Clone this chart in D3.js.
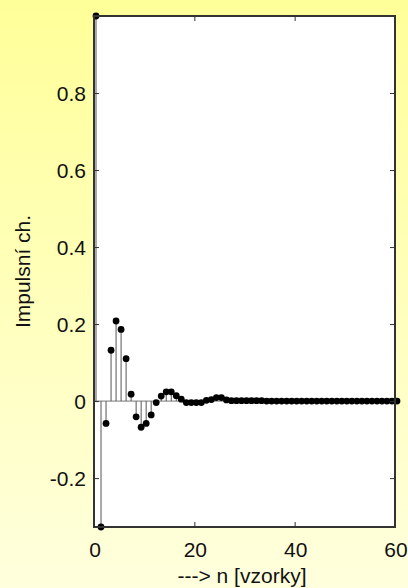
<!DOCTYPE html>
<html>
<head>
<meta charset="utf-8">
<script src="https://cdn.jsdelivr.net/npm/d3@7"></script>
<style>
  html, body { margin: 0; padding: 0; }
  body { width: 408px; height: 588px; overflow: hidden; }
  text { font-family: "Liberation Sans", Arial, sans-serif; fill: #111; }
</style>
</head>
<body>
<div id="chart"></div>
<script>
// impulse response samples, n = 0..60
const samples = [
  1, -0.327, -0.058, 0.132, 0.208, 0.186, 0.110, 0.018, -0.041, -0.068,
  -0.058, -0.036, -0.004, 0.013, 0.024, 0.024, 0.014, 0.005, -0.004, -0.004,
  -0.004, -0.004, 0.002, 0.004, 0.009, 0.009, 0.003, 0.001, 0.001, 0.001,
  0.001, 0.001, 0.001, 0.001, 0, 0, 0, 0, 0, 0,
  0, 0, 0, 0, 0, 0, 0, 0, 0, 0,
  0, 0, 0, 0, 0, 0, 0, 0, 0, 0,
  0
];
const xTicks = [0, 20, 40, 60];
const yTicks = [-0.2, 0, 0.2, 0.4, 0.6, 0.8];
const xLabel = "---> n [vzorky]";
const yLabel = "Impulsní ch.";

const width = 408, height = 588;
const pLeft = 94, pRight = 395, pTop = 16, pBottom = 527;
const fontSize = 21;

const svg = d3.select("#chart").append("svg")
  .attr("width", width)
  .attr("height", height);

// yellow gradient background
const grad = svg.append("defs").append("linearGradient")
  .attr("id", "bg").attr("x1", 0).attr("y1", 0).attr("x2", 0).attr("y2", 1);
grad.append("stop").attr("offset", "0%").attr("stop-color", "#ffff99");
grad.append("stop").attr("offset", "100%").attr("stop-color", "#ffffdd");
svg.append("rect").attr("width", width).attr("height", height).attr("fill", "url(#bg)");

const x = d3.scaleLinear().domain([0, 60]).range([pLeft, pRight]);
const y = d3.scaleLinear().domain([d3.min(samples), 1]).range([pBottom, pTop]);

svg.append("rect")
  .attr("x", pLeft).attr("y", pTop)
  .attr("width", pRight - pLeft).attr("height", pBottom - pTop)
  .attr("fill", "#fff");

const g = svg.append("g");

// baseline
g.append("line")
  .attr("x1", x(0)).attr("x2", x(60))
  .attr("y1", y(0)).attr("y2", y(0))
  .attr("stroke", "#777").attr("stroke-width", 1);

// stems
g.selectAll("line.stem").data(samples).join("line")
  .attr("class", "stem")
  .attr("x1", (d, i) => x(i) + 2).attr("x2", (d, i) => x(i) + 2)
  .attr("y1", y(0)).attr("y2", d => y(d))
  .attr("stroke", "#555").attr("stroke-width", 1);

// frame + ticks (inward, all four sides)
const axisColor = "#333";
svg.append("rect")
  .attr("x", pLeft).attr("y", pTop)
  .attr("width", pRight - pLeft).attr("height", pBottom - pTop)
  .attr("fill", "none").attr("stroke", axisColor).attr("stroke-width", 2);

svg.append("g").attr("transform", `translate(0,${pBottom})`)
  .call(d3.axisTop(x).tickValues(xTicks).tickSize(5).tickFormat(""))
  .call(a => a.select(".domain").remove())
  .selectAll("line").attr("stroke", axisColor);
svg.append("g").attr("transform", `translate(0,${pTop})`)
  .call(d3.axisBottom(x).tickValues(xTicks).tickSize(5).tickFormat(""))
  .call(a => a.select(".domain").remove())
  .selectAll("line").attr("stroke", axisColor);
svg.append("g").attr("transform", `translate(${pLeft},0)`)
  .call(d3.axisRight(y).tickValues(yTicks).tickSize(5).tickFormat(""))
  .call(a => a.select(".domain").remove())
  .selectAll("line").attr("stroke", axisColor);
svg.append("g").attr("transform", `translate(${pRight},0)`)
  .call(d3.axisLeft(y).tickValues(yTicks).tickSize(5).tickFormat(""))
  .call(a => a.select(".domain").remove())
  .selectAll("line").attr("stroke", axisColor);

// markers
g.selectAll("circle").data(samples).join("circle")
  .attr("cx", (d, i) => x(i) + 2)
  .attr("cy", d => y(d))
  .attr("r", 3.4)
  .attr("fill", "#000");

// tick labels
svg.selectAll("text.xt").data(xTicks).join("text")
  .attr("class", "xt")
  .attr("x", d => x(d) + 1).attr("y", 557)
  .attr("text-anchor", "middle")
  .attr("font-size", fontSize)
  .text(d => d);

svg.selectAll("text.yt").data(yTicks).join("text")
  .attr("class", "yt")
  .attr("x", 86).attr("y", d => y(d) + 8)
  .attr("text-anchor", "end")
  .attr("font-size", fontSize)
  .text(d => d3.format("")(d).replace("−", "-"));

svg.append("text")
  .attr("x", 242).attr("y", 583)
  .attr("text-anchor", "middle")
  .attr("font-size", fontSize)
  .text(xLabel);

svg.append("text")
  .attr("transform", `translate(30,${(pTop + pBottom) / 2}) rotate(-90)`)
  .attr("text-anchor", "middle")
  .attr("font-size", fontSize)
  .text(yLabel);
</script>
</body>
</html>
